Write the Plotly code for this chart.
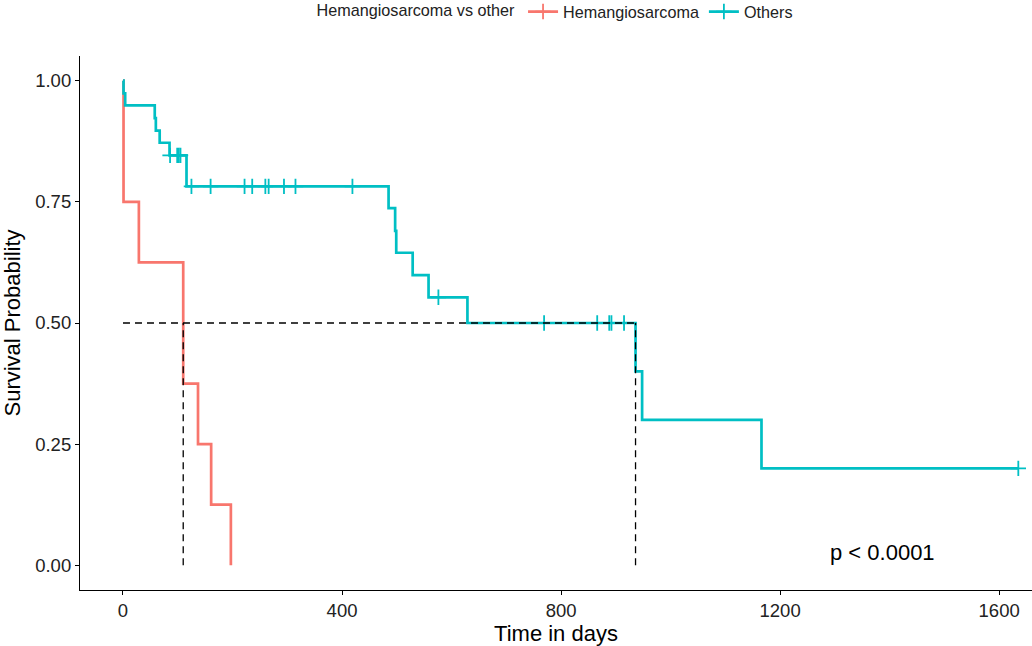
import plotly.graph_objects as go

# ---- data ----
hem_time = [0, 1, 29, 110, 137, 161, 197]
hem_surv = [1.0, 0.75, 0.625, 0.375, 0.25, 0.125, 0.0]

oth_time = [0, 1, 4, 58, 60, 67, 85, 116, 485, 497, 499, 529, 558, 629, 936, 948, 1166, 1635]
oth_surv = [1.0, 0.974, 0.949, 0.923, 0.897, 0.872, 0.846, 0.782, 0.737, 0.690, 0.645,
            0.599, 0.553, 0.5, 0.4, 0.3, 0.2, 0.2]

oth_cens_time = [86, 99, 102, 105, 125, 160, 222, 236, 260, 266, 294, 315, 419,
                 576, 769, 866, 888, 892, 915, 1635]
oth_cens_surv = [0.846, 0.846, 0.846, 0.846, 0.782, 0.782, 0.782, 0.782, 0.782, 0.782,
                 0.782, 0.782, 0.782, 0.553, 0.5, 0.5, 0.5, 0.5, 0.5, 0.2]

median_hem = 110
median_oth = 936
median_level = 0.5

x_ticks = [0, 400, 800, 1200, 1600]
y_ticks = [0.0, 0.25, 0.5, 0.75, 1.0]
y_tick_labels = ["0.00", "0.25", "0.50", "0.75", "1.00"]

RED = "#F8766D"
TEAL = "#00BFC4"
FONT = "Liberation Sans, Arial, sans-serif"

fig = go.Figure()

# survival curves
fig.add_trace(go.Scatter(x=hem_time, y=hem_surv, mode="lines", line_shape="hv",
                         line=dict(color=RED, width=2.7), showlegend=False))
fig.add_trace(go.Scatter(x=oth_time, y=oth_surv, mode="lines", line_shape="hv",
                         line=dict(color=TEAL, width=2.7), showlegend=False))
fig.add_trace(go.Scatter(x=oth_cens_time, y=oth_cens_surv, mode="markers",
                         marker=dict(symbol="cross-thin", size=11,
                                     line=dict(color=TEAL, width=1.8)),
                         showlegend=False))

# median dashed lines (on top)
dash_style = dict(color="black", width=1.3, dash="7px,5px")
fig.add_trace(go.Scatter(x=[0, median_oth], y=[median_level, median_level], mode="lines",
                         line=dash_style, showlegend=False, hoverinfo="skip"))
fig.add_trace(go.Scatter(x=[median_hem, median_hem], y=[0, median_level], mode="lines",
                         line=dash_style, showlegend=False, hoverinfo="skip"))
fig.add_trace(go.Scatter(x=[median_oth, median_oth], y=[0, median_level], mode="lines",
                         line=dash_style, showlegend=False, hoverinfo="skip"))

# legend entries
fig.add_trace(go.Scatter(x=[None], y=[None], mode="lines+markers", name="Hemangiosarcoma",
                         line=dict(color=RED, width=2.7),
                         marker=dict(symbol="cross-thin", size=11, line=dict(color=RED, width=1.8))))
fig.add_trace(go.Scatter(x=[None], y=[None], mode="lines+markers", name="Others",
                         line=dict(color=TEAL, width=2.7),
                         marker=dict(symbol="cross-thin", size=11, line=dict(color=TEAL, width=1.8))))

fig.add_annotation(x=1288, y=0.027, xref="x", yref="y", text="p < 0.0001",
                   showarrow=False, xanchor="left", yanchor="middle",
                   font=dict(family=FONT, size=22, color="black"))

fig.update_layout(
    width=1032, height=646,
    margin=dict(l=80, r=0, t=56, b=56, autoexpand=False),
    paper_bgcolor="white", plot_bgcolor="white",
    font=dict(family=FONT, color="black"),
    legend=dict(orientation="h", x=0.5, xanchor="center", y=1.0824, yanchor="middle",
                itemwidth=30,
                title=dict(text="Hemangiosarcoma vs other", font=dict(size=16.2, family=FONT, color="#222")),
                font=dict(size=16.2, family=FONT, color="#222")),
    xaxis=dict(range=[-78.5, 1660], tickvals=x_ticks, showgrid=False, zeroline=False,
               automargin=False,
               showline=True, linecolor="black", linewidth=1.2,
               ticks="outside", ticklen=4, tickcolor="black",
               tickfont=dict(size=18.5, color="#222"),
               title=dict(text="Time in days", font=dict(size=22))),
    yaxis=dict(range=[-0.051, 1.051], tickvals=y_ticks, ticktext=y_tick_labels,
               showgrid=False, zeroline=False, automargin=False,
               showline=True, linecolor="black", linewidth=1.2,
               ticks="outside", ticklen=4, tickcolor="black",
               tickfont=dict(size=18.5, color="#222"),
               title=dict(text="Survival Probability", font=dict(size=22))),
)

fig.write_html("out.html", config={"displayModeBar": False},
               post_script="document.body.style.margin='0';")
